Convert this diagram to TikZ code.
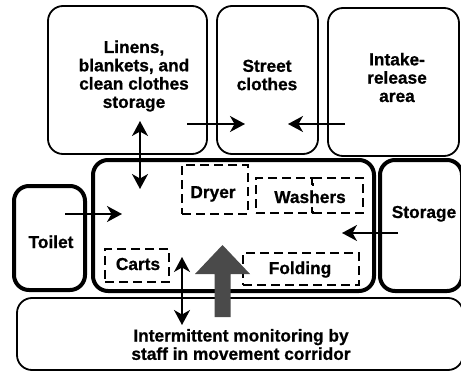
\documentclass[tikz,border=0pt]{standalone}
\usepackage{fontspec}
\setmainfont{Liberation Sans}[BoldFeatures={FakeBold=0.8}]
\usetikzlibrary{arrows.meta}
\definecolor{arrowgray}{HTML}{4A4A4A}
\begin{document}
\begin{tikzpicture}[x=1pt,y=-1pt,
 txt/.style={font=\bfseries\fontsize{17.3}{18.3}\selectfont, align=center, inner sep=0pt},
 room/.style={draw, line width=1.8pt, rounded corners=15pt, inner sep=0pt},
 thickroom/.style={draw, line width=4pt, rounded corners=15pt, inner sep=0pt},
 zone/.style={draw, line width=2.8pt, dash pattern=on 9pt off 5pt, inner sep=0pt},
 tip/.tip={Stealth[length=15pt,width=16pt,inset=4.5pt]},
 flow/.style={line width=1.8pt, -tip},
 dflow/.style={line width=1.8pt, tip-tip}
]
\useasboundingbox (0,0) rectangle (461,372);
% rooms
\node[room, minimum width=159pt, minimum height=148pt] (linens) at (127.5,80) {};
\node[room, minimum width=101pt, minimum height=148pt] (street) at (267.5,80) {};
\node[room, minimum width=131pt, minimum height=148pt] (intake) at (393.5,82) {};
\node[thickroom, minimum width=281pt, minimum height=131pt] (main) at (233.5,225.5) {};
\node[thickroom, minimum width=71pt, minimum height=104pt] (toilet) at (49.5,238) {};
\node[thickroom, minimum width=82pt, minimum height=131pt] (storage) at (421,225.5) {};
\node[room, minimum width=446pt, minimum height=72pt] (corridor) at (240,334) {};
% zones
\node[zone, minimum width=66pt, minimum height=49pt] (dryer) at (215,189.5) {};
\node[zone, minimum width=56pt, minimum height=35pt] (washa) at (284,195.5) {};
\node[zone, minimum width=50pt, minimum height=35pt] (washb) at (338,195.5) {};
\node[zone, minimum width=64pt, minimum height=33pt] (carts) at (137,265.5) {};
\node[zone, minimum width=116pt, minimum height=32pt] (folding) at (301,269) {};
% labels
\node[txt] (tlinens) at (134,76) {Linens,\\blankets, and\\clean clothes\\storage};
\node[txt] (tstreet) at (267,75) {Street\\clothes};
\node[txt] (tintake) at (397,77.5) {Intake-\\release\\area};
\node[txt, anchor=base] (ttoilet) at (51,248) {Toilet};
\node[txt, anchor=base] (tstorage) at (424,218) {Storage};
\node[txt, anchor=base] (tdryer) at (213,198) {Dryer};
\node[txt, anchor=base, fill=white, inner xsep=1pt, inner ysep=4pt] (twash) at (310,203) {Washers};
\node[txt, anchor=base] (tcarts) at (138,270) {Carts};
\node[txt, anchor=base] (tfolding) at (300,274) {Folding};
\node[txt] (tcorr) at (241,344.5) {Intermittent monitoring by\\staff in movement corridor};
% arrow end points
\coordinate (a1s) at (140,121);
\coordinate (a1e) at (140,189);
\coordinate (a2s) at (187,124);
\coordinate (a2e) at (245,124);
\coordinate (a3s) at (345,124);
\coordinate (a3e) at (288,124);
\coordinate (a4s) at (65,214);
\coordinate (a4e) at (122,214);
\coordinate (a5s) at (398,233);
\coordinate (a5e) at (342,233);
\coordinate (a6s) at (182,257);
\coordinate (a6e) at (182,325);
\draw[dflow] (a1s) -- (a1e);
\draw[flow] (a2s) -- (a2e);
\draw[flow] (a3s) -- (a3e);
\draw[flow] (a4s) -- (a4e);
\draw[flow] (a5s) -- (a5e);
\draw[dflow] (a6s) -- (a6e);
% big gray arrow
\fill[arrowgray] (214.5,317) -- (214.5,274) -- (195,274) -- (222.5,245) -- (250,274) -- (230.5,274) -- (230.5,317) -- cycle;
\end{tikzpicture}
\end{document}
